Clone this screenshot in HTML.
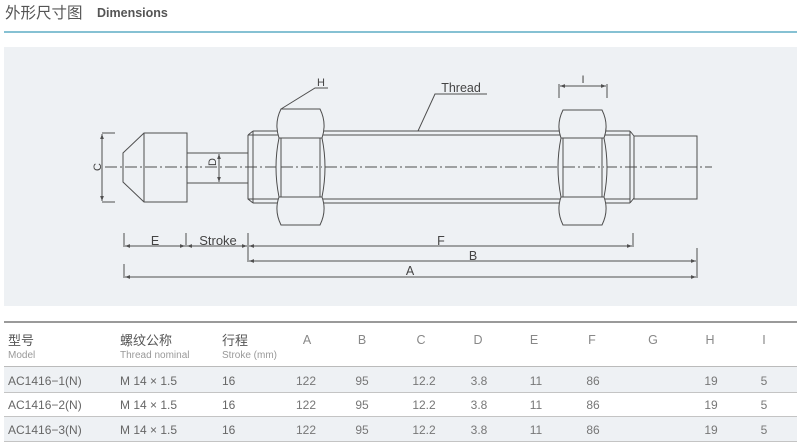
<!DOCTYPE html>
<html><head><meta charset="utf-8"><style>
html,body{margin:0;padding:0;background:#fff;}
svg{display:block;}
text{font-family:"Liberation Sans","Noto Sans CJK SC",sans-serif;}
</style></head><body>
<svg width="801" height="446" viewBox="0 0 801 446" xmlns="http://www.w3.org/2000/svg">
<defs>
<marker id="ae" viewBox="0 0 8 6" refX="8" refY="3" markerWidth="5" markerHeight="4" orient="auto" markerUnits="userSpaceOnUse"><path d="M0,0 L8,3 L0,6 Z" fill="#505050"/></marker>
<marker id="as" viewBox="0 0 8 6" refX="0" refY="3" markerWidth="5" markerHeight="4" orient="auto" markerUnits="userSpaceOnUse"><path d="M8,0 L0,3 L8,6 Z" fill="#505050"/></marker>
</defs>
<!-- header -->
<text x="5" y="18" font-size="15.5" fill="#555">外形尺寸图</text>
<text x="97" y="17" font-size="12.5" font-weight="bold" fill="#555">Dimensions</text>
<line x1="4" y1="32" x2="797" y2="32" stroke="#86c1d3" stroke-width="2"/>
<rect x="4" y="47" width="793" height="259" fill="#eef1f4"/>

<!-- drawing -->
<g fill="none" stroke="#4e4e4e" stroke-width="1">
  <line x1="105" y1="167" x2="712" y2="167" stroke-dasharray="12 3 2 3"/>
  <!-- tip -->
  <path d="M123,153 L144,133 L187,133 L187,202 L144,202 L123,182 Z"/>
  <line x1="144" y1="133" x2="144" y2="202"/>
  <path d="M187,153 H248 M187,183 H248"/>
  <!-- left thread piece -->
  <path d="M248,135 L253,131 M248,135 V199 L253,203 M253,131 V203"/>
  <path d="M253,131 H279 M248,135 H279 M248,199 H279 M253,203 H279"/>
  <!-- thread between nuts -->
  <path d="M322,131 H561 M322,135 H561 M322,199 H561 M322,203 H561"/>
  <!-- right thread piece -->
  <path d="M604,131 H630 M604,135 H630 M604,199 H630 M604,203 H630"/>
  <path d="M630,131 V203 M630,131 L634,136 V198 L630,203"/>
  <rect x="634" y="136" width="63" height="63"/>
  <!-- nut 1 -->
  <path d="M281,109 L320,109 Q327,123 322,138 Q328,167 322,197 Q327,211 320,225 L281,225 Q274,211 279,197 Q273,167 279,138 Q274,123 281,109 Z" fill="#eef1f4"/>
  <path d="M279,138 H322 M279,197 H322 M281,138 V197 M320,138 V197"/>
  <!-- nut 2 -->
  <path d="M563,110 L602,110 Q609,124 604,138 Q610,167 604,197 Q609,211 602,225 L563,225 Q556,211 561,197 Q555,167 561,138 Q556,124 563,110 Z" fill="#eef1f4"/>
  <path d="M561,138 H604 M561,197 H604 M563,138 V197 M602,138 V197"/>
  <line x1="281" y1="167" x2="322" y2="167" stroke-dasharray="12 3 2 3"/>
  <line x1="563" y1="167" x2="604" y2="167" stroke-dasharray="12 3 2 3"/>
  <!-- C dim -->
  <path d="M102,133 H115 M102,202 H115"/>
  <line x1="102" y1="134" x2="102" y2="201" marker-start="url(#as)" marker-end="url(#ae)"/>
  <!-- D dim -->
  <line x1="219" y1="154" x2="219" y2="182" marker-start="url(#as)" marker-end="url(#ae)"/>
  <!-- H leader -->
  <path d="M281,109 L315,88 H328"/>
  <!-- Thread leader -->
  <path d="M418,131 L435,94 H487"/>
  <!-- I dim -->
  <path d="M559,84 V98 M607,84 V98"/>
  <line x1="560" y1="86" x2="606" y2="86" marker-start="url(#as)" marker-end="url(#ae)"/>
  <!-- bottom dims -->
  <path d="M124,233 V247 M186,233 V247 M248,233 V262 M633,233 V247 M697,248 V278 M124,264 V278"/>
  <line x1="125" y1="246" x2="185" y2="246" marker-start="url(#as)" marker-end="url(#ae)"/>
  <line x1="187" y1="246" x2="247" y2="246" marker-start="url(#as)" marker-end="url(#ae)"/>
  <line x1="249" y1="246" x2="632" y2="246" marker-start="url(#as)" marker-end="url(#ae)"/>
  <line x1="249" y1="261" x2="696" y2="261" marker-start="url(#as)" marker-end="url(#ae)"/>
  <line x1="125" y1="277" x2="696" y2="277" marker-start="url(#as)" marker-end="url(#ae)"/>
</g>
<g fill="#444" font-size="12">
  <text x="0" y="0" transform="translate(101,167) rotate(-90)" text-anchor="middle" font-size="11">C</text>
  <text x="0" y="0" transform="translate(216,162) rotate(-90)" text-anchor="middle" font-size="11">D</text>
  <text x="321" y="86" text-anchor="middle" font-size="11">H</text>
  <text x="461" y="92" text-anchor="middle" font-size="12.5">Thread</text>
  <text x="583" y="83" text-anchor="middle" font-size="11">I</text>
  <text x="155" y="245" text-anchor="middle" font-size="12.5">E</text>
  <text x="218" y="245" text-anchor="middle" font-size="13">Stroke</text>
  <text x="441" y="245" text-anchor="middle" font-size="12.5">F</text>
  <text x="473" y="260" text-anchor="middle" font-size="12.5">B</text>
  <text x="410" y="275" text-anchor="middle" font-size="12.5">A</text>
</g>

<!-- table -->
<rect x="4" y="367" width="793" height="25" fill="#eef1f4"/>
<rect x="4" y="417" width="793" height="24" fill="#eef1f4"/>
<line x1="4" y1="322" x2="797" y2="322" stroke="#9a9a9a" stroke-width="2"/>
<line x1="4" y1="366.5" x2="797" y2="366.5" stroke="#bbbbbb" stroke-width="1"/>
<line x1="4" y1="392.5" x2="797" y2="392.5" stroke="#c4c4c4" stroke-width="1"/>
<line x1="4" y1="416.5" x2="797" y2="416.5" stroke="#c4c4c4" stroke-width="1"/>
<line x1="4" y1="441.5" x2="797" y2="441.5" stroke="#c4c4c4" stroke-width="1"/>

<g font-size="13" fill="#555">
  <text x="8" y="345">型号</text>
  <text x="120" y="345">螺纹公称</text>
  <text x="222" y="345">行程</text>
</g>
<g font-size="10" fill="#999">
  <text x="8" y="358">Model</text>
  <text x="120" y="358">Thread nominal</text>
  <text x="222" y="358">Stroke (mm)</text>
</g>
<g font-size="12.5" fill="#888" text-anchor="middle">
  <text x="307" y="344">A</text>
  <text x="362" y="344">B</text>
  <text x="421" y="344">C</text>
  <text x="478" y="344">D</text>
  <text x="534" y="344">E</text>
  <text x="592" y="344">F</text>
  <text x="653" y="344">G</text>
  <text x="710" y="344">H</text>
  <text x="764" y="344">I</text>
</g>

<g font-size="12" fill="#666">
  <text x="8" y="385">AC1416−1(N)</text>
  <text x="120" y="385">M 14 × 1.5</text>
  <text x="222" y="385">16</text>
  <text x="8" y="409">AC1416−2(N)</text>
  <text x="120" y="409">M 14 × 1.5</text>
  <text x="222" y="409">16</text>
  <text x="8" y="434">AC1416−3(N)</text>
  <text x="120" y="434">M 14 × 1.5</text>
  <text x="222" y="434">16</text>
</g>
<g font-size="12" fill="#777" text-anchor="middle">
  <text x="306" y="385">122</text><text x="362" y="385">95</text><text x="424" y="385">12.2</text><text x="479" y="385">3.8</text><text x="536" y="385">11</text><text x="593" y="385">86</text><text x="711" y="385">19</text><text x="764" y="385">5</text>
  <text x="306" y="409">122</text><text x="362" y="409">95</text><text x="424" y="409">12.2</text><text x="479" y="409">3.8</text><text x="536" y="409">11</text><text x="593" y="409">86</text><text x="711" y="409">19</text><text x="764" y="409">5</text>
  <text x="306" y="434">122</text><text x="362" y="434">95</text><text x="424" y="434">12.2</text><text x="479" y="434">3.8</text><text x="536" y="434">11</text><text x="593" y="434">86</text><text x="711" y="434">19</text><text x="764" y="434">5</text>
</g>
</svg>
</body></html>
